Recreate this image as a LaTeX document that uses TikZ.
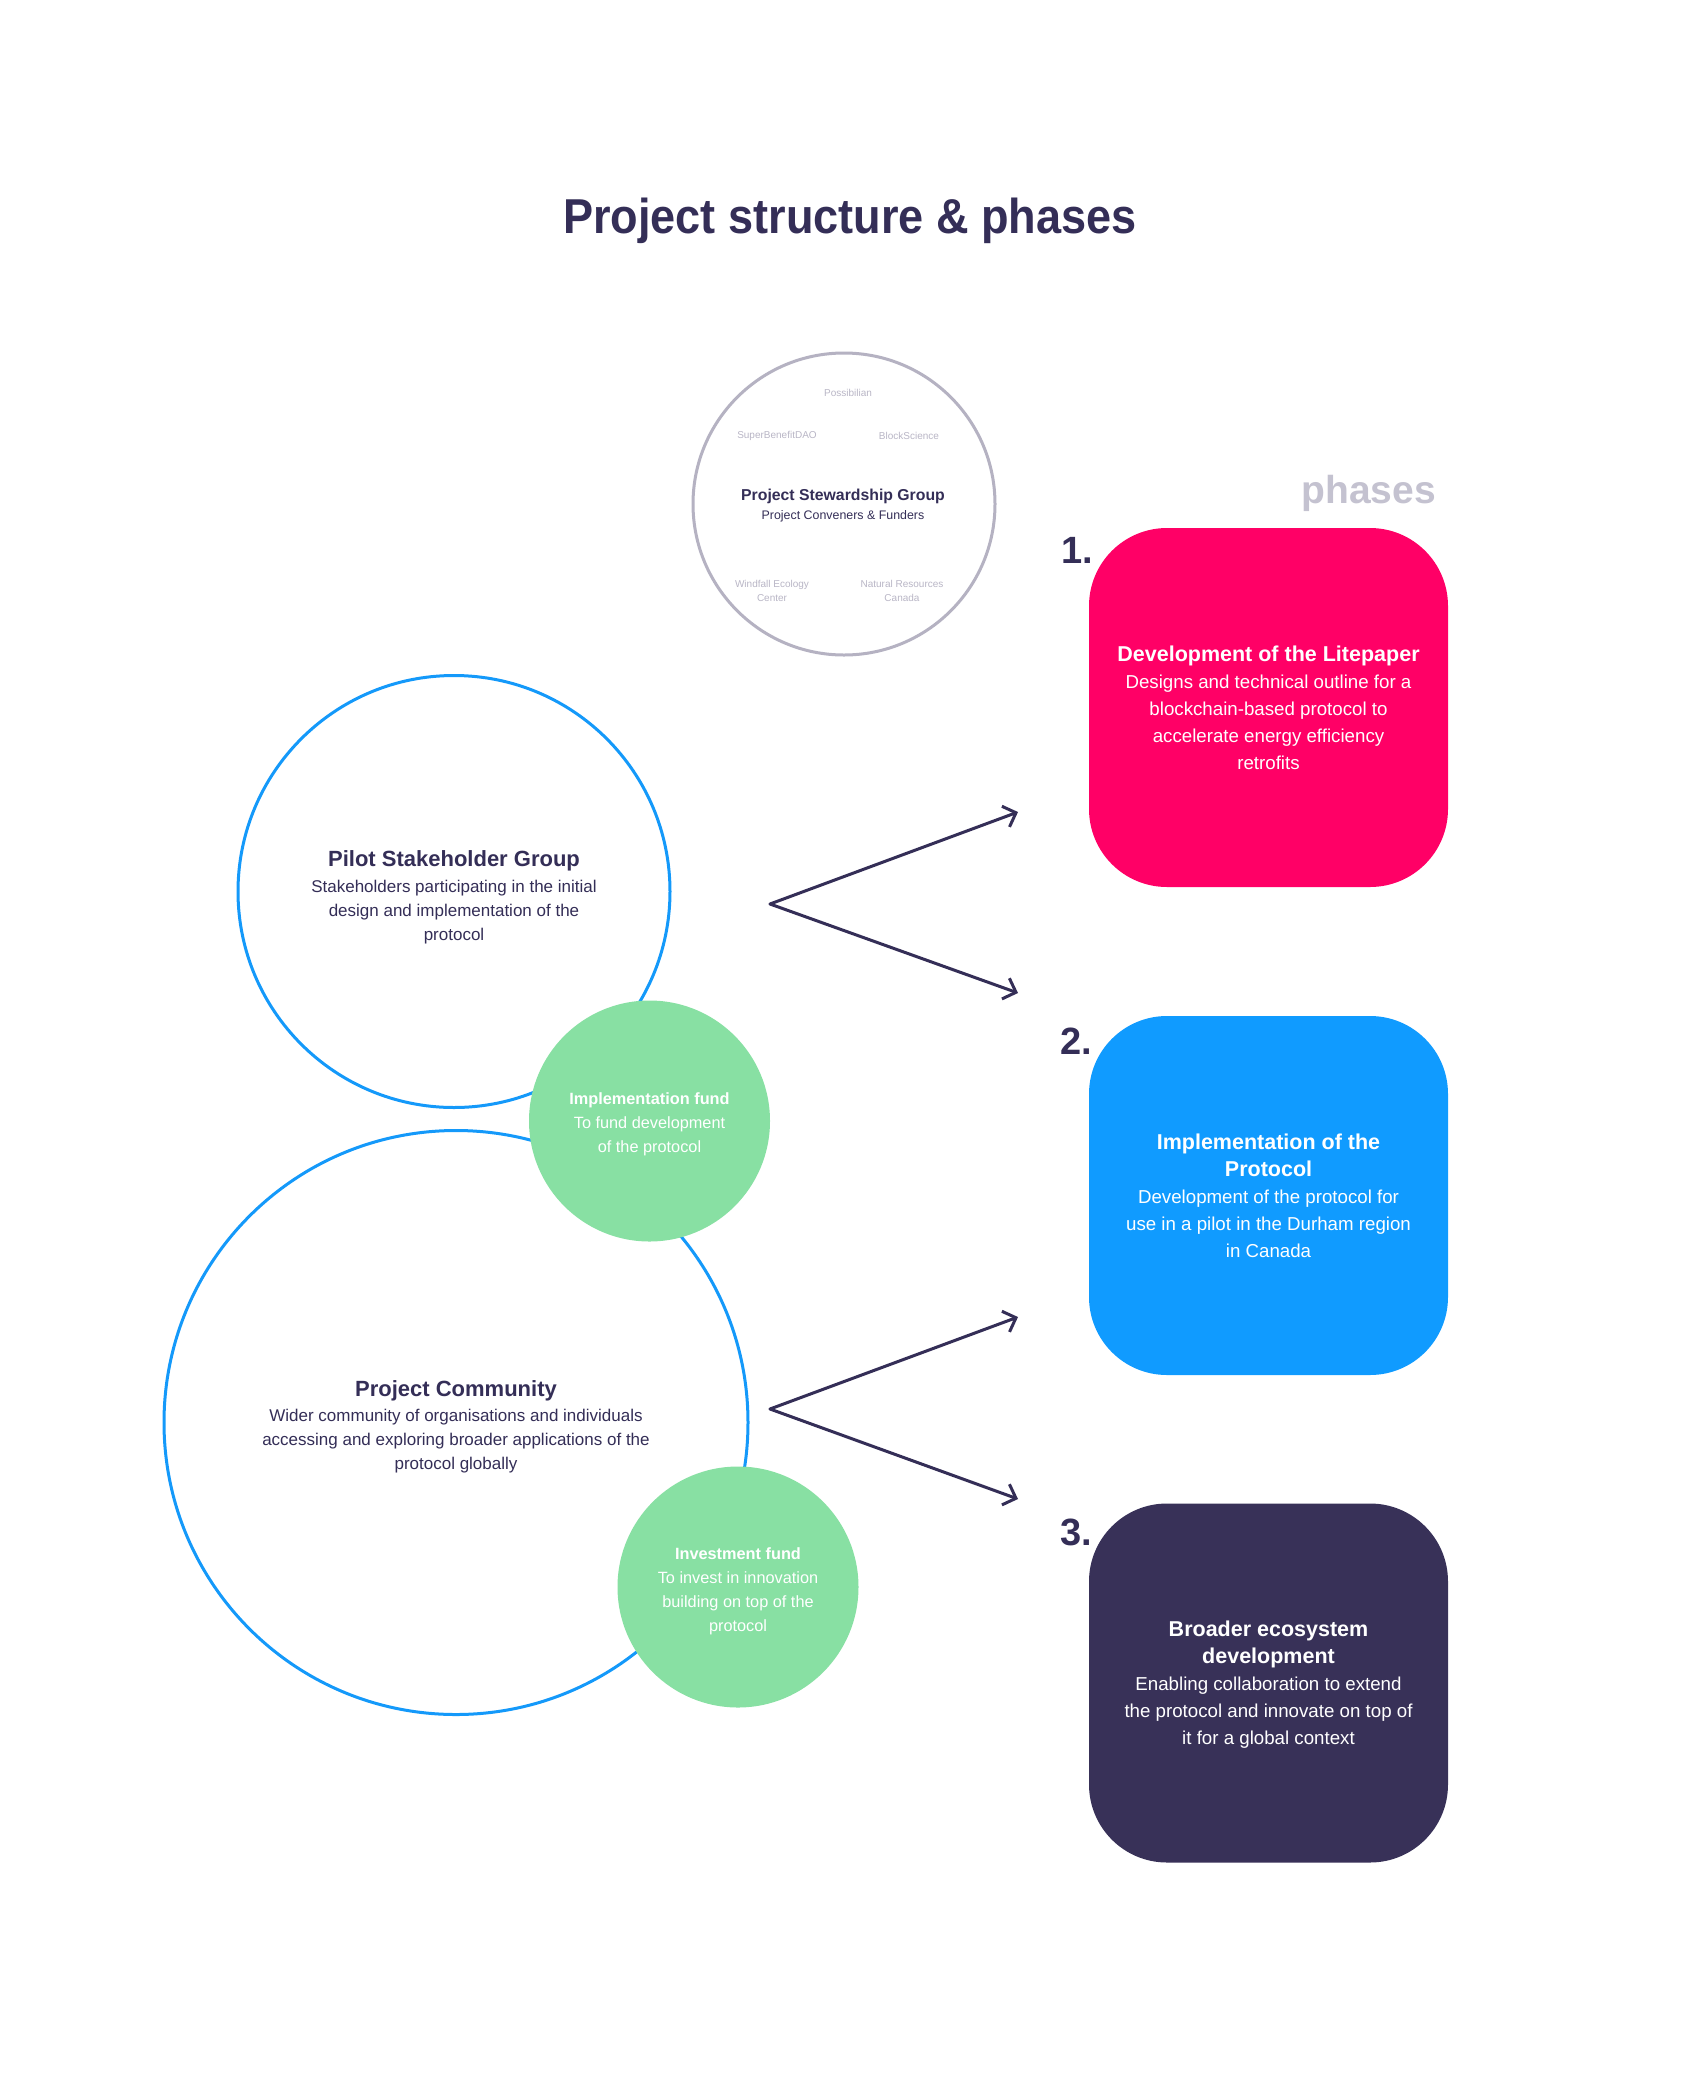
\documentclass[tikz,border=0pt]{standalone}
\usepackage{fontspec}
\setmainfont{Liberation Sans}
\usetikzlibrary{arrows.meta}
\definecolor{ink}{HTML}{342E57}
\definecolor{ringblue}{HTML}{1499FA}
\definecolor{stgray}{HTML}{B5B2C2}
\definecolor{memgray}{HTML}{B9B6C6}
\definecolor{phgray}{HTML}{C4C2D0}
\definecolor{fundgreen}{HTML}{88E0A3}
\definecolor{pinkbox}{HTML}{FF0066}
\definecolor{bluebox}{HTML}{109BFF}
\definecolor{darkbox}{HTML}{383158}
\begin{document}
\begin{tikzpicture}[x=1pt,y=-1pt,
  bluering/.style={circle, draw=ringblue, line width=3pt, inner sep=0pt},
  ringtext/.style={text=ink, align=center, inner sep=0pt, font=\fontsize{17}{24}\selectfont},
  fundc/.style={circle, fill=fundgreen, inner sep=0pt, minimum size=241pt},
  fundtext/.style={text=white, align=center, inner sep=0pt, font=\fontsize{16.3}{24}\selectfont},
  phasebox/.style={rectangle, rounded corners=78pt, minimum width=359pt, minimum height=359pt, inner sep=0pt},
  phasetext/.style={text=white, align=center, inner sep=0pt, font=\fontsize{18.7}{27}\selectfont},
  phnum/.style={anchor=base west, text=ink, inner sep=0pt, font=\fontsize{38}{40}\selectfont\bfseries},
  memb/.style={text=memgray, align=center, inner sep=0pt, font=\fontsize{10}{14}\selectfont},
  arr/.style={draw=ink, line width=3pt, line cap=round, line join=round, -{Straight Barb[length=11pt,width=22pt]}}
]
\useasboundingbox (0,0) rectangle (1703,2099);
\fill[white] (0,0) rectangle (1703,2099);

% title
\node[anchor=base, text=ink, inner sep=0pt, font=\fontsize{49}{58}\selectfont\bfseries] (title) at (850,233) {\scalebox{0.92}[1]{Project structure \& phases}};

% stewardship group
\node[circle, draw=stgray, line width=3pt, minimum size=302pt, inner sep=0pt] (steward) at (844,504) {};
\node[text=ink, align=center, inner sep=0pt, font=\fontsize{12.4}{19}\selectfont] (sttxt) at (843,506) {{\fontsize{15.8}{19}\selectfont\bfseries Project Stewardship Group}\\Project Conveners \& Funders};
\node[memb] (m1) at (848,393) {Possibilian};
\node[memb] (m2) at (777,436) {SuperBenefitDAO};
\node[memb] (m3) at (909,436) {BlockScience};
\node[memb] (m4) at (772,591) {Windfall Ecology\\Center};
\node[memb] (m5) at (902,591) {Natural Resources\\Canada};

% left circles
\node[bluering, minimum size=432pt] (pilot) at (454,891.5) {};
\node[bluering, minimum size=584pt] (community) at (456,1422.5) {};
\node[ringtext] (pilottxt) at (454,897) {{\fontsize{22}{24}\selectfont\bfseries Pilot Stakeholder Group}\\[2pt]Stakeholders participating in the initial\\design and implementation of the\\protocol};
\node[ringtext] (commtxt) at (456,1427) {{\fontsize{22}{24}\selectfont\bfseries Project Community}\\[1pt]Wider community of organisations and individuals\\accessing and exploring broader applications of the\\protocol globally};
\node[fundc] (implfund) at (649.5,1121) {};
\node[fundtext] (impltxt) at (649.5,1124) {{\bfseries Implementation fund}\\To fund development\\of the protocol};
\node[fundc] (investfund) at (738,1587) {};
\node[fundtext] (investtxt) at (738,1591) {{\bfseries Investment fund}\\To invest in innovation\\building on top of the\\protocol};

% phases
\node[anchor=base east, text=phgray, inner sep=0pt, font=\fontsize{39}{42}\selectfont\bfseries] (phases) at (1436,503) {phases};

\node[phasebox, fill=pinkbox] (p1) at (1268.5,707.5) {};
\node[phasebox, fill=bluebox] (p2) at (1268.5,1195.5) {};
\node[phasebox, fill=darkbox] (p3) at (1268.5,1683) {};
\node[phasetext] (p1txt) at (p1.center) {{\fontsize{21.5}{30}\selectfont\bfseries Development of the Litepaper}\\Designs and technical outline for a\\blockchain-based protocol to\\accelerate energy efficiency\\retrofits};
\node[phasetext] (p2txt) at (p2.center) {{\fontsize{21.5}{30}\selectfont\bfseries Implementation of the}\\{\fontsize{21.5}{30}\selectfont\bfseries Protocol}\\Development of the protocol for\\use in a pilot in the Durham region\\in Canada};
\node[phasetext] (p3txt) at ([yshift=-2pt]p3.center) {{\fontsize{21.5}{30}\selectfont\bfseries Broader ecosystem}\\{\fontsize{21.5}{30}\selectfont\bfseries development}\\Enabling collaboration to extend\\the protocol and innovate on top of\\it for a global context};

\node[phnum] (n1) at (1061,563) {1.};
\node[phnum] (n2) at (1060,1054) {2.};
\node[phnum] (n3) at (1060,1545) {3.};

% arrows
\coordinate (a1) at (770,904);
\coordinate (t1a) at (1018,812);
\coordinate (t1b) at (1018,993);
\coordinate (a2) at (770,1409);
\coordinate (t2a) at (1018,1317);
\coordinate (t2b) at (1018,1499);
\draw[arr] (a1) -- (t1a);
\draw[arr] (a1) -- (t1b);
\draw[arr] (a2) -- (t2a);
\draw[arr] (a2) -- (t2b);
\end{tikzpicture}
\end{document}
